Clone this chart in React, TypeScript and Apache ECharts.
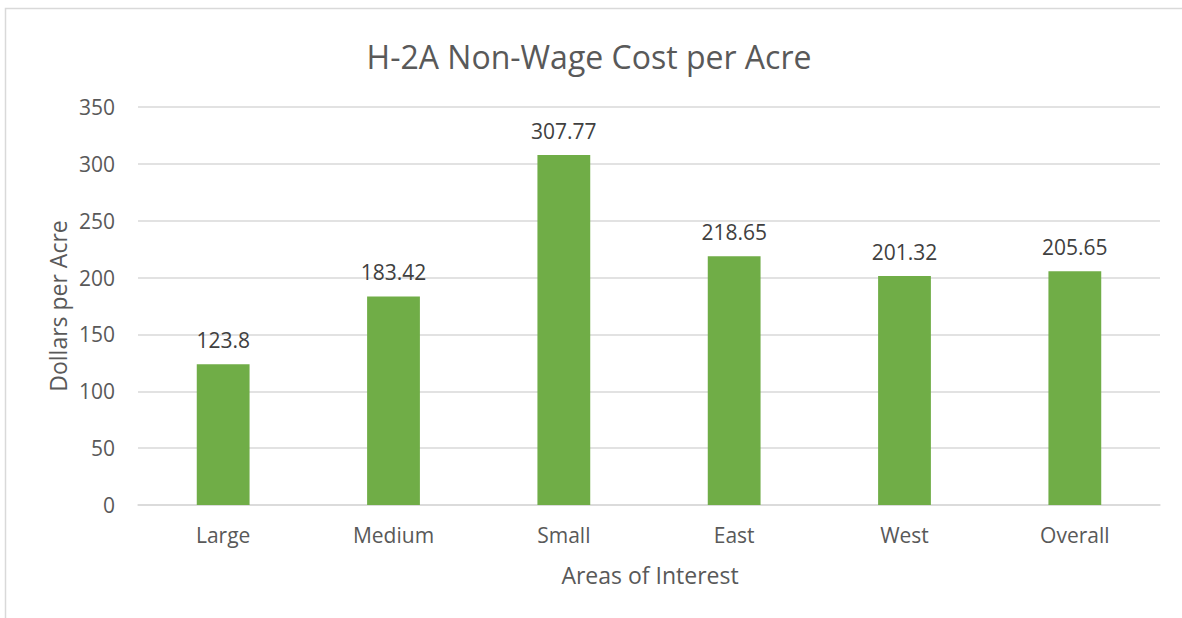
import React, { useEffect, useRef } from "react";
import * as echarts from "echarts";

const categories = ["Large", "Medium", "Small", "East", "West", "Overall"];
const values = [123.8, 183.42, 307.77, 218.65, 201.32, 205.65];
const yTicks = { min: 0, max: 350, interval: 50 };
const titleText = "H-2A Non-Wage Cost per Acre";
const xAxisName = "Areas of Interest";
const yAxisName = "Dollars per Acre";

const FONT = "'Open Sans', 'Noto Sans', sans-serif";
const TEXT = "#595959";

export default function App() {
  const ref = useRef<HTMLDivElement>(null);
  useEffect(() => {
    if (!ref.current) return;
    const chart = echarts.init(ref.current, undefined, { renderer: "svg" });
    chart.setOption({
      animation: false,
      backgroundColor: "#ffffff",
      textStyle: { fontFamily: FONT },
      graphic: [
        {
          type: "rect",
          shape: { x: 5.5, y: 8.5, width: 1200, height: 700 },
          style: { fill: "none", stroke: "#d9d9d9", lineWidth: 1.5 },
          silent: true,
        },
        {
          type: "text",
          x: 589,
          y: 56,
          style: {
            text: titleText,
            fill: TEXT,
            font: `32px ${FONT}`,
            textAlign: "center",
            textVerticalAlign: "middle",
          },
        },
        {
          type: "text",
          x: 650,
          y: 575,
          style: {
            text: xAxisName,
            fill: TEXT,
            font: `23px ${FONT}`,
            textAlign: "center",
            textVerticalAlign: "middle",
          },
        },
        {
          type: "text",
          x: 58,
          y: 306,
          rotation: Math.PI / 2,
          style: {
            text: yAxisName,
            fill: TEXT,
            font: `23px ${FONT}`,
            textAlign: "center",
            textVerticalAlign: "middle",
          },
        },
      ],
      grid: { left: 138, right: 22, top: 107, bottom: 113, containLabel: false },
      xAxis: {
        type: "category",
        data: categories,
        axisLine: { lineStyle: { color: "#d9d9d9", width: 1.5 } },
        axisTick: { show: false },
        axisLabel: { color: TEXT, fontSize: 21, fontFamily: FONT, margin: 19 },
      },
      yAxis: {
        type: "value",
        min: yTicks.min,
        max: yTicks.max,
        interval: yTicks.interval,
        axisLine: { show: false },
        axisTick: { show: false },
        splitLine: { lineStyle: { color: "#d9d9d9", width: 1.5 } },
        axisLabel: { color: TEXT, fontSize: 21, fontFamily: FONT, margin: 23 },
      },
      series: [
        {
          type: "bar",
          data: values,
          barWidth: "31%",
          itemStyle: { color: "#70ad47" },
          label: {
            show: true,
            position: "top",
            distance: 14,
            color: "#404040",
            fontSize: 21,
            fontFamily: FONT,
          },
        },
      ],
    });
    return () => chart.dispose();
  }, []);
  return (
    <div
      ref={ref}
      style={{ position: "absolute", left: 0, top: 0, width: 1182, height: 618 }}
    />
  );
}
